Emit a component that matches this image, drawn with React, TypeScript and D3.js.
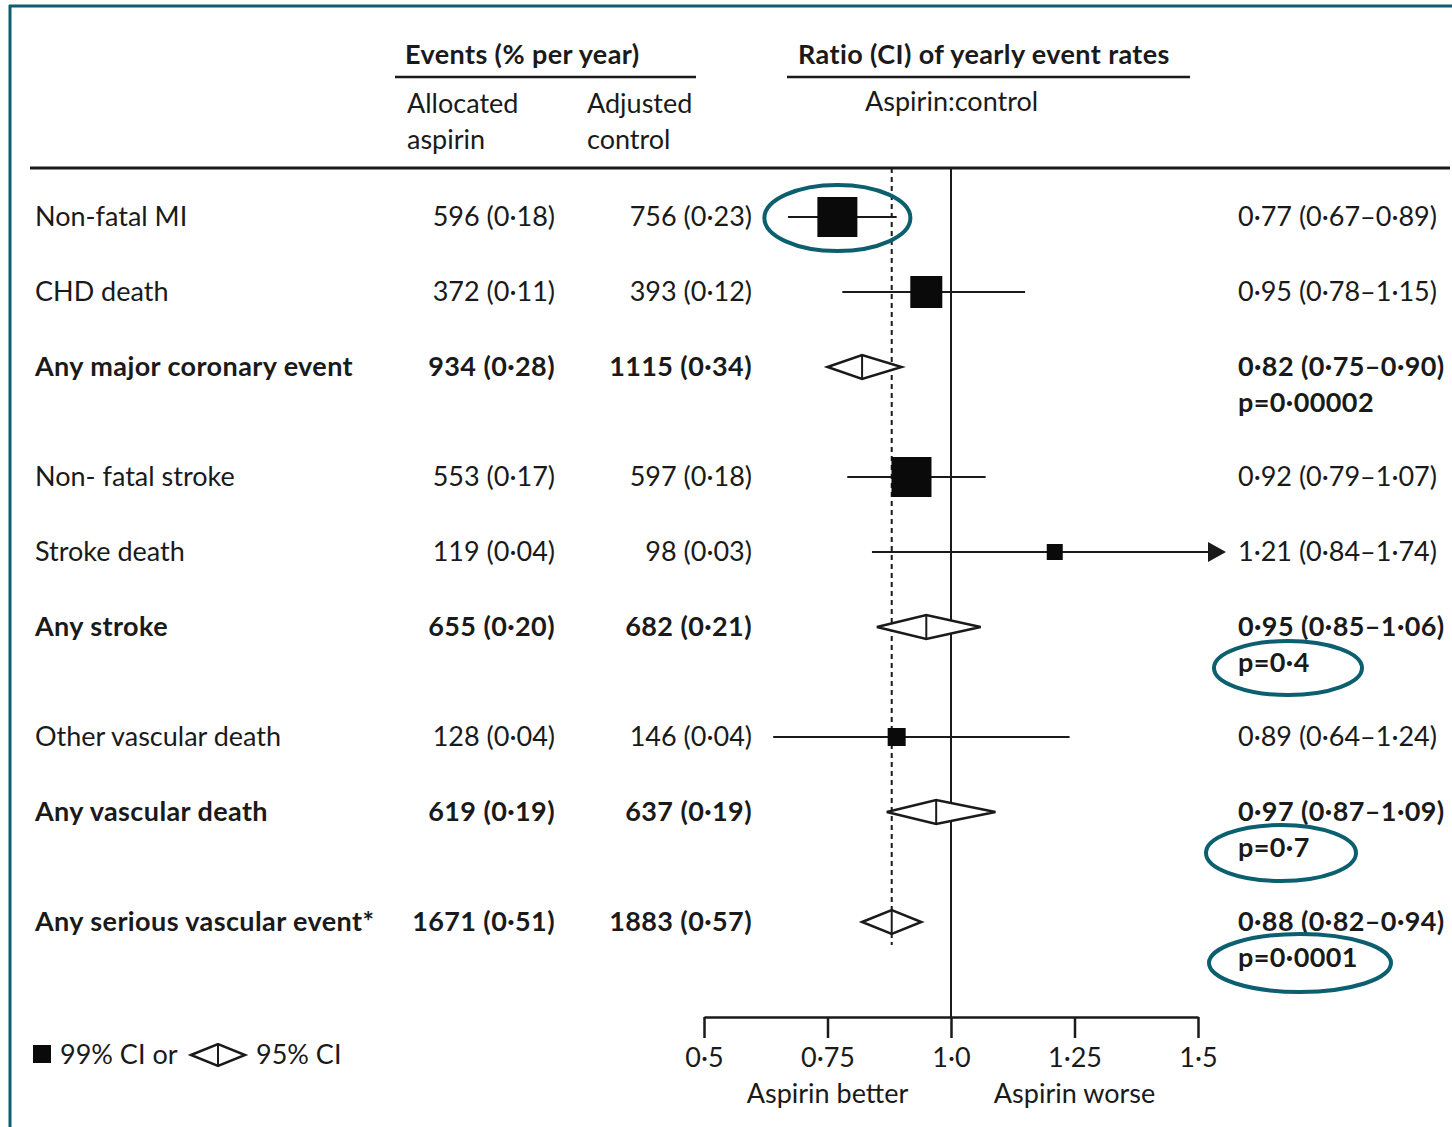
import React, { useEffect, useRef } from 'react';
import * as d3 from 'd3';

// rows of the forest plot
const labels = [
  'Non-fatal MI', 'CHD death', 'Any major coronary event',
  'Non- fatal stroke', 'Stroke death', 'Any stroke',
  'Other vascular death', 'Any vascular death', 'Any serious vascular event*',
];
const isTotal = [false, false, true, false, false, true, false, true, true];
const aspirinEvents = ['596', '372', '934', '553', '119', '655', '128', '619', '1671'];
const aspirinRate = ['0·18', '0·11', '0·28', '0·17', '0·04', '0·20', '0·04', '0·19', '0·51'];
const controlEvents = ['756', '393', '1115', '597', '98', '682', '146', '637', '1883'];
const controlRate = ['0·23', '0·12', '0·34', '0·18', '0·03', '0·21', '0·04', '0·19', '0·57'];
const ratio = [0.77, 0.95, 0.82, 0.92, 1.21, 0.95, 0.89, 0.97, 0.88];
const lower = [0.67, 0.78, 0.75, 0.79, 0.84, 0.85, 0.64, 0.87, 0.82];
const upper = [0.89, 1.15, 0.90, 1.07, 1.74, 1.06, 1.24, 1.09, 0.94];
const ciText = [
  '0·77 (0·67–0·89)', '0·95 (0·78–1·15)', '0·82 (0·75–0·90)',
  '0·92 (0·79–1·07)', '1·21 (0·84–1·74)', '0·95 (0·85–1·06)',
  '0·89 (0·64–1·24)', '0·97 (0·87–1·09)', '0·88 (0·82–0·94)',
];
const pText = ['', '', 'p=0·00002', '', '', 'p=0·4', '', 'p=0·7', 'p=0·0001'];
const boxSize = [40, 32, 0, 40, 16, 0, 18, 0, 0];
const overall = 0.88;
const ticks = [0.5, 0.75, 1, 1.25, 1.5];

// teal highlights: row index, on the mark or on the p value
const highlights = [
  { row: 0, on: 'mark', rx: 73, ry: 33 },
  { row: 5, on: 'p', rx: 74, ry: 27, dx: 50 },
  { row: 7, on: 'p', rx: 75, ry: 28, dx: 43 },
  { row: 8, on: 'p', rx: 91, ry: 29, dx: 62 },
];

const W = 1452, H = 1127;
const FONT = 'Lato, "Open Sans", sans-serif';
const INK = '#1a1a1a';
const TEAL = '#0b5f6f';
const FS = 27;

export default function App() {
  const axisRef = useRef<SVGGElement>(null);

  const x = d3.scaleLinear().domain([0.5, 1.5]).range([704, 1198]);
  const rowY: number[] = [];
  let yy = 217;
  labels.forEach((_, i) => {
    rowY.push(yy);
    yy += pText[i] ? 110 : 75;
  });
  const axisY = 1017;

  useEffect(() => {
    const g = d3.select(axisRef.current);
    g.selectAll('*').remove();
    g.call(
      d3.axisBottom(x)
        .tickValues(ticks)
        .tickSize(21)
        .tickSizeOuter(0)
        .tickPadding(10)
        .tickFormat((v: any) => (v === 1 ? '1·0' : String(v).replace('.', '·')))
    );
    g.select('.domain').attr('stroke', INK).attr('stroke-width', 2.5);
    g.selectAll('.tick line').attr('stroke', INK).attr('stroke-width', 2.5);
    g.selectAll('.tick text')
      .attr('font-family', FONT)
      .attr('font-size', FS)
      .attr('fill', INK);
  }, []);

  const diamond = (i: number, cy: number, h: number) => {
    const l = x(lower[i]), r = x(upper[i]), c = x(ratio[i]);
    return `M${l},${cy} L${c},${cy - h} L${r},${cy} L${c},${cy + h} Z`;
  };

  return (
    <svg width={W} height={H} style={{ position: 'absolute', left: 0, top: 0, background: '#fff' }}
      fontFamily={FONT} fill={INK}>
      {/* frame */}
      <line x1={10} y1={5} x2={10} y2={H} stroke={TEAL} strokeWidth={3} />
      <line x1={9} y1={6} x2={W} y2={6} stroke={TEAL} strokeWidth={3} />

      {/* headers */}
      <g fontSize={FS} fontWeight="bold" letterSpacing={0.4}>
        <text x={405} y={64}>Events (% per year)</text>
        <text x={798} y={64}>Ratio (CI) of yearly event rates</text>
      </g>
      <line x1={395} x2={696} y1={77} y2={77} stroke={INK} strokeWidth={2.5} />
      <line x1={787} x2={1190} y1={77} y2={77} stroke={INK} strokeWidth={2.5} />
      <g fontSize={FS}>
        <text x={407} y={113}>Allocated</text>
        <text x={407} y={149}>aspirin</text>
        <text x={587} y={113}>Adjusted</text>
        <text x={587} y={149}>control</text>
        <text x={865} y={111}>Aspirin:control</text>
      </g>
      <line x1={30} x2={1450} y1={168} y2={168} stroke={INK} strokeWidth={3} />

      {/* reference lines */}
      <line x1={x(1)} x2={x(1)} y1={168} y2={axisY} stroke={INK} strokeWidth={2} />
      <line x1={x(overall)} x2={x(overall)} y1={168} y2={945} stroke={INK} strokeWidth={2}
        strokeDasharray="5,4" />

      {/* rows */}
      {labels.map((lab, i) => {
        const cy = rowY[i];
        const fw = isTotal[i] ? 'bold' : 'normal';
        const hiX = Math.min(x(upper[i]), 1212);
        return (
          <g key={lab}>
            <g fontSize={FS} fontWeight={fw} letterSpacing={isTotal[i] ? 0.4 : 0}>
              <text x={35} y={cy} dy="0.35em">{lab}</text>
              <text x={555} y={cy} dy="0.35em" textAnchor="end">{`${aspirinEvents[i]} (${aspirinRate[i]})`}</text>
              <text x={752} y={cy} dy="0.35em" textAnchor="end">{`${controlEvents[i]} (${controlRate[i]})`}</text>
              <text x={1238} y={cy} dy="0.35em">{ciText[i]}</text>
              {pText[i] && <text x={1238} y={cy + 36} dy="0.35em">{pText[i]}</text>}
            </g>
            {boxSize[i] > 0 ? (
              <g>
                <line x1={x(lower[i])} x2={hiX} y1={cy} y2={cy} stroke={INK} strokeWidth={2} />
                {x(upper[i]) > 1212 && (
                  <path d={`M1208,${cy - 10} L1226,${cy} L1208,${cy + 10} Z`} fill={INK} />
                )}
                <rect x={x(ratio[i]) - boxSize[i] / 2} y={cy - boxSize[i] / 2}
                  width={boxSize[i]} height={boxSize[i]} fill="#0a0a0a" />
              </g>
            ) : (
              <g>
                <path d={diamond(i, cy, 12)} fill="#fff" stroke={INK} strokeWidth={2.5} />
                <line x1={x(ratio[i])} x2={x(ratio[i])} y1={cy - 12} y2={cy + 12} stroke={INK} strokeWidth={2} />
              </g>
            )}
          </g>
        );
      })}

      {/* axis */}
      <g ref={axisRef} transform={`translate(0,${axisY})`} />
      <g fontSize={FS} textAnchor="middle">
        <text x={x(0.75)} y={1103}>Aspirin better</text>
        <text x={x(1.25)} y={1103}>Aspirin worse</text>
      </g>

      {/* legend */}
      <rect x={33} y={1045} width={18} height={18} fill="#0a0a0a" />
      <text x={60} y={1055} dy="0.35em" fontSize={FS}>99% CI or</text>
      <path d="M191,1055 L218,1044 L245,1055 L218,1066 Z" fill="#fff" stroke={INK} strokeWidth={2.5} />
      <line x1={218} x2={218} y1={1044} y2={1066} stroke={INK} strokeWidth={2} />
      <text x={256} y={1055} dy="0.35em" fontSize={FS}>95% CI</text>

      {/* highlights */}
      {highlights.map((h, k) => {
        const cx = h.on === 'mark' ? x(ratio[h.row]) : 1238 + (h.dx || 0);
        const cy = h.on === 'mark' ? rowY[h.row] + 1 : rowY[h.row] + 41;
        return <ellipse key={k} cx={cx} cy={cy} rx={h.rx} ry={h.ry} fill="none" stroke={TEAL} strokeWidth={4} />;
      })}
    </svg>
  );
}
